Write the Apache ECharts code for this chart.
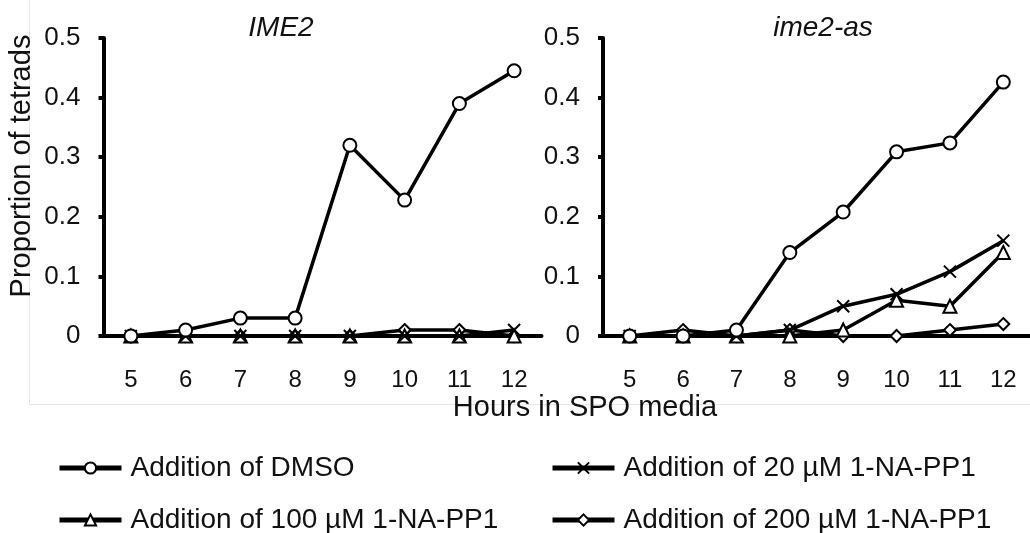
<!DOCTYPE html>
<html>
<head>
<meta charset="utf-8">
<title>ECharts</title>
<script src="https://cdn.jsdelivr.net/npm/echarts@6/dist/echarts.min.js"></script>
</head>
<body style="margin:0;background:#fff">
<div id="main" style="width:1030px;height:533px;"></div>
<script type="text/javascript">
// x axis: hours in SPO media
var hours = ['5', '6', '7', '8', '9', '10', '11', '12'];
var seriesNames = ['Addition of DMSO', 'Addition of 20 µM 1-NA-PP1',
    'Addition of 100 µM 1-NA-PP1', 'Addition of 200 µM 1-NA-PP1'];
var panelTitles = ['IME2', 'ime2-as'];

// IME2 panel
var ime2Dmso  = [0, 0.01, 0.03, 0.03, 0.32, 0.228, 0.39, 0.445];
var ime2Na20  = [0, 0, 0, 0, 0, 0, 0, 0.01];
var ime2Na100 = [0, 0, 0, 0, 0, 0, 0, 0];
var ime2Na200 = [0, 0, 0, 0, 0, 0.01, 0.01, 0];

// ime2-as panel
var asDmso  = [0, 0, 0.01, 0.14, 0.208, 0.309, 0.324, 0.426];
var asNa20  = [0, 0, 0, 0.01, 0.05, 0.07, 0.108, 0.16];
var asNa100 = [0, 0, 0, 0, 0.01, 0.06, 0.05, 0.14];
var asNa200 = [0, 0.01, 0, 0.01, 0, 0, 0.01, 0.02];

var font = "'Liberation Sans', Arial, sans-serif";
var symbols = ['circle', 'path://M0,0L10,10M10,0L0,10', 'triangle', 'diamond'];
var symbolSizes = [13, 12, 13, 12];

var myChart = echarts.init(document.getElementById('main'));

function makeSeries(name, idx, data, gridIdx) {
    return {
        name: name,
        type: 'line',
        xAxisIndex: gridIdx,
        yAxisIndex: gridIdx,
        data: data,
        symbol: symbols[idx],
        symbolSize: symbolSizes[idx],
        showAllSymbol: true,
        z: 10 - idx,
        lineStyle: { color: '#000', width: 3.5 },
        itemStyle: { color: '#fff', borderColor: '#000', borderWidth: 2 },
        emphasis: { disabled: true },
        animation: false
    };
}

function xAxis(gridIdx) {
    return {
        type: 'category',
        gridIndex: gridIdx,
        data: hours,
        boundaryGap: true,
        axisLine: { lineStyle: { color: '#000', width: 4 } },
        axisTick: { length: 7, lineStyle: { color: '#000', width: 4 } },
        axisLabel: { color: '#111', fontSize: 24, fontFamily: font, margin: 32 }
    };
}

function yAxis(gridIdx) {
    return {
        type: 'value',
        gridIndex: gridIdx,
        min: 0, max: 0.5, interval: 0.1,
        splitLine: { show: false },
        axisLine: { show: true, lineStyle: { color: '#000', width: 4 } },
        axisTick: { show: true, length: 5, lineStyle: { color: '#000', width: 4 } },
        axisLabel: {
            color: '#111', fontSize: 26, fontFamily: font, margin: 23,
            formatter: function (v) { return v === 0 ? '0' : v.toFixed(1); }
        }
    };
}

function legendItem(name, left, top) {
    return {
        data: [name],
        left: left, top: top,
        itemWidth: 62, itemHeight: 14,
        selectedMode: false,
        lineStyle: { width: 5 },
        textStyle: { color: '#111', fontSize: 28, fontFamily: font, padding: [0, 0, 0, 4] }
    };
}

var series = [];
[ime2Dmso, ime2Na20, ime2Na100, ime2Na200].forEach(function (d, i) {
    series.push(makeSeries(seriesNames[i], i, d, 0));
});
[asDmso, asNa20, asNa100, asNa200].forEach(function (d, i) {
    series.push(makeSeries(seriesNames[i], i, d, 1));
});

myChart.setOption({
    backgroundColor: '#fff',
    animation: false,
    grid: [
        { left: 103.5, top: 38, width: 438, height: 298 },
        { left: 603, top: 38, width: 437, height: 298 }
    ],
    xAxis: [xAxis(0), xAxis(1)],
    yAxis: [yAxis(0), yAxis(1)],
    legend: [
        legendItem(seriesNames[0], 52, 449),
        legendItem(seriesNames[1], 545, 449),
        legendItem(seriesNames[2], 52, 501),
        legendItem(seriesNames[3], 545, 501)
    ],
    graphic: [
        // faint frame of the original figure
        { type: 'line', shape: { x1: 29.5, y1: 0, x2: 29.5, y2: 404 }, style: { stroke: '#e6e6e6', lineWidth: 1 }, z: -1 },
        { type: 'line', shape: { x1: 29.5, y1: 404.5, x2: 1030, y2: 404.5 }, style: { stroke: '#e6e6e6', lineWidth: 1 }, z: -1 },
        { type: 'text', x: 281, y: 28, style: { text: panelTitles[0], font: 'italic 28px ' + font, fill: '#111', textAlign: 'center', textVerticalAlign: 'middle' } },
        { type: 'text', x: 823, y: 28, style: { text: panelTitles[1], font: 'italic 28px ' + font, fill: '#111', textAlign: 'center', textVerticalAlign: 'middle' } },
        { type: 'text', x: 22, y: 166, rotation: Math.PI / 2, style: { text: 'Proportion of tetrads', font: '29px ' + font, fill: '#111', textAlign: 'center', textVerticalAlign: 'middle' } },
        { type: 'text', x: 585, y: 408, style: { text: 'Hours in SPO media', font: '29px ' + font, fill: '#111', textAlign: 'center', textVerticalAlign: 'middle' } }
    ],
    series: series
});
</script>
</body>
</html>
